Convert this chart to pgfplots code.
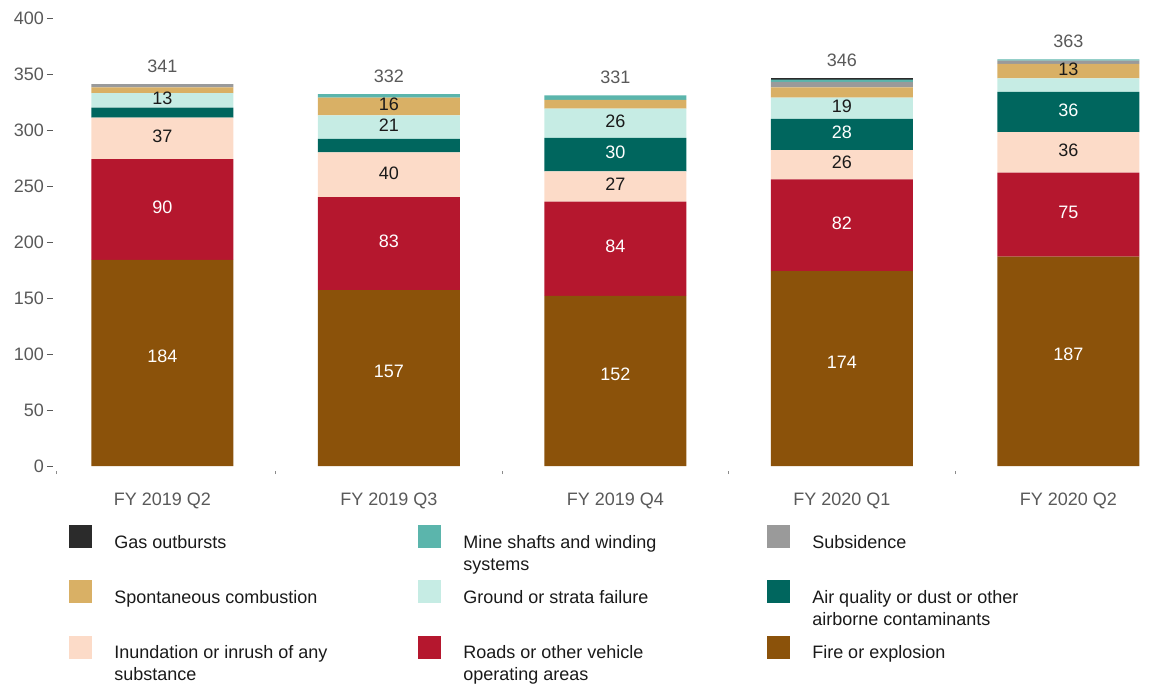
\documentclass[border=0pt]{standalone}
\usepackage{pgfplots}
\usepackage{pgfplotstable}
\pgfplotsset{compat=1.18}
\usepackage{fontspec}
\setmainfont{Liberation Sans}
\definecolor{cfire}{HTML}{8B520A}
\definecolor{croads}{HTML}{B5172E}
\definecolor{cinund}{HTML}{FCDBC8}
\definecolor{cair}{HTML}{00665E}
\definecolor{cground}{HTML}{C6ECE4}
\definecolor{cspont}{HTML}{D9B065}
\definecolor{csubs}{HTML}{9A9A9A}
\definecolor{cmine}{HTML}{5BB5AC}
\definecolor{cgas}{HTML}{2B2B2B}
\definecolor{ctick}{HTML}{595959}
\definecolor{ctext}{HTML}{1A1A1A}

\pgfplotstableread{
x fire roads inund air ground spont subs mine gas total Lfire Lroads Linund Lair Lground Lspont
0 184 90 37 9 13 5 3 0 0 341 184 90 37 {} 13 {}
1 157 83 40 12 21 16 0 3 0 332 157 83 40 {} 21 16
2 152 84 27 30 26 8 0 4 0 331 152 84 27 30 26 {}
3 174 82 26 28 19 9 5 2 1 346 174 82 26 28 19 {}
4 187 75 36 36 12 13 3 1 0 363 187 75 36 36 {} 13
}\datatable

\pgfplotsset{
  sqlegend/.style={legend image code/.code={\fill[##1,draw=none] (0pt,0pt) rectangle (17.25pt,17.25pt);}},
  seg/.style n args={3}{
    draw=none, sqlegend,
    point meta=explicit symbolic,
    nodes near coords,
    nodes near coords style={text=#2, anchor=center, font=\fontsize{13.5}{16}\selectfont,
      yshift=#3},
  },
}

\begin{document}
\begin{tikzpicture}
\path[use as bounding box] (-42pt,349.5pt) rectangle (836.25pt,-165pt);
\begin{axis}[
  at={(0pt,0pt)}, anchor=south west,
  x=169.875pt, y=0.84pt,
  xmin=-0.47, xmax=4.4, ymin=0, ymax=400,
  ybar stacked, bar width=106.5pt,
  axis x line*=bottom, axis y line*=left,
  axis line style={draw=none},
  tick align=outside,
  major tick length=4.5pt,
  minor tick length=2.25pt,
  ytick={0,50,...,400},
  major y tick style={draw=ctick, line width=0.6pt, xshift=-2.25pt},
  xtick={0,1,2,3,4},
  xticklabels={FY 2019 Q2,FY 2019 Q3,FY 2019 Q4,FY 2020 Q1,FY 2020 Q2},
  major x tick style={draw=none},
  minor xtick={-0.47,0.5,1.5,2.5,3.5},
  minor x tick style={draw=ctick!70, line width=0.6pt, yshift=-3.75pt},
  /pgf/number format/assume math mode=true,
  tick label style={font=\fontsize{13.5}{16}\selectfont, text=ctick},
  xticklabel style={anchor=base, yshift=-25pt},
  yticklabel style={anchor=east, xshift=-1pt},
  legend columns=3,
  reverse legend,
  legend style={at={(axis description cs:0,0)}, anchor=north west,
    xshift=9.75pt, yshift=-44.25pt, draw=none, fill=none, inner sep=0pt,
    cells={anchor=base west}, nodes={inner sep=0pt, text=ctext},
    /tikz/every odd column/.style={column sep=16.5pt},
    /tikz/every even column/.style={column sep=48pt},
    row sep=22.6pt,
    font=\fontsize{13.5}{16.5}\selectfont},
]
\addplot[fill=cfire, seg={fire}{white}{5pt}] table[x=x,y=fire,meta=Lfire] {\datatable};
\addlegendentry{\parbox[t]{180pt}{Fire or explosion}}
\addplot[fill=croads, seg={roads}{white}{1.5pt}] table[x=x,y=roads,meta=Lroads] {\datatable};
\addlegendentry{\parbox[t]{180pt}{Roads or other vehicle\\operating areas}}
\addplot[fill=cinund, seg={inund}{ctext}{1.5pt}] table[x=x,y=inund,meta=Linund] {\datatable};
\addlegendentry{\parbox[t]{180pt}{Inundation or inrush of any\\substance}}
\addplot[fill=cair, seg={air}{white}{1.5pt}] table[x=x,y=air,meta=Lair] {\datatable};
\addlegendentry{\parbox[t]{180pt}{Air quality or dust or other\\airborne contaminants}}
\addplot[fill=cground, seg={ground}{ctext}{1.5pt}] table[x=x,y=ground,meta=Lground] {\datatable};
\addlegendentry{\parbox[t]{180pt}{Ground or strata failure}}
\addplot[fill=cspont, seg={spont}{ctext}{1.5pt}] table[x=x,y=spont,meta=Lspont] {\datatable};
\addlegendentry{\parbox[t]{180pt}{Spontaneous combustion}}
\addplot[fill=csubs, draw=none, sqlegend] table[x=x,y=subs] {\datatable};
\addlegendentry{\parbox[t]{180pt}{Subsidence}}
\addplot[fill=cmine, draw=none, sqlegend] table[x=x,y=mine] {\datatable};
\addlegendentry{\parbox[t]{180pt}{Mine shafts and winding\\systems}}
\addplot[fill=cgas, draw=none, sqlegend] table[x=x,y=gas] {\datatable};
\addlegendentry{\parbox[t]{180pt}{Gas outbursts}}
\addplot[draw=none, fill=none, stack plots=false, forget plot,
  visualization depends on={\thisrow{total} \as \rawt},
  point meta=explicit symbolic,
  nodes near coords,
  nodes near coords style={text=ctick, anchor=base, yshift={0.42pt*\rawt+8.7pt}, font=\fontsize{13.5}{16}\selectfont}]
  table[x=x,y=total,meta=total] {\datatable};
\end{axis}
\end{tikzpicture}
\end{document}
